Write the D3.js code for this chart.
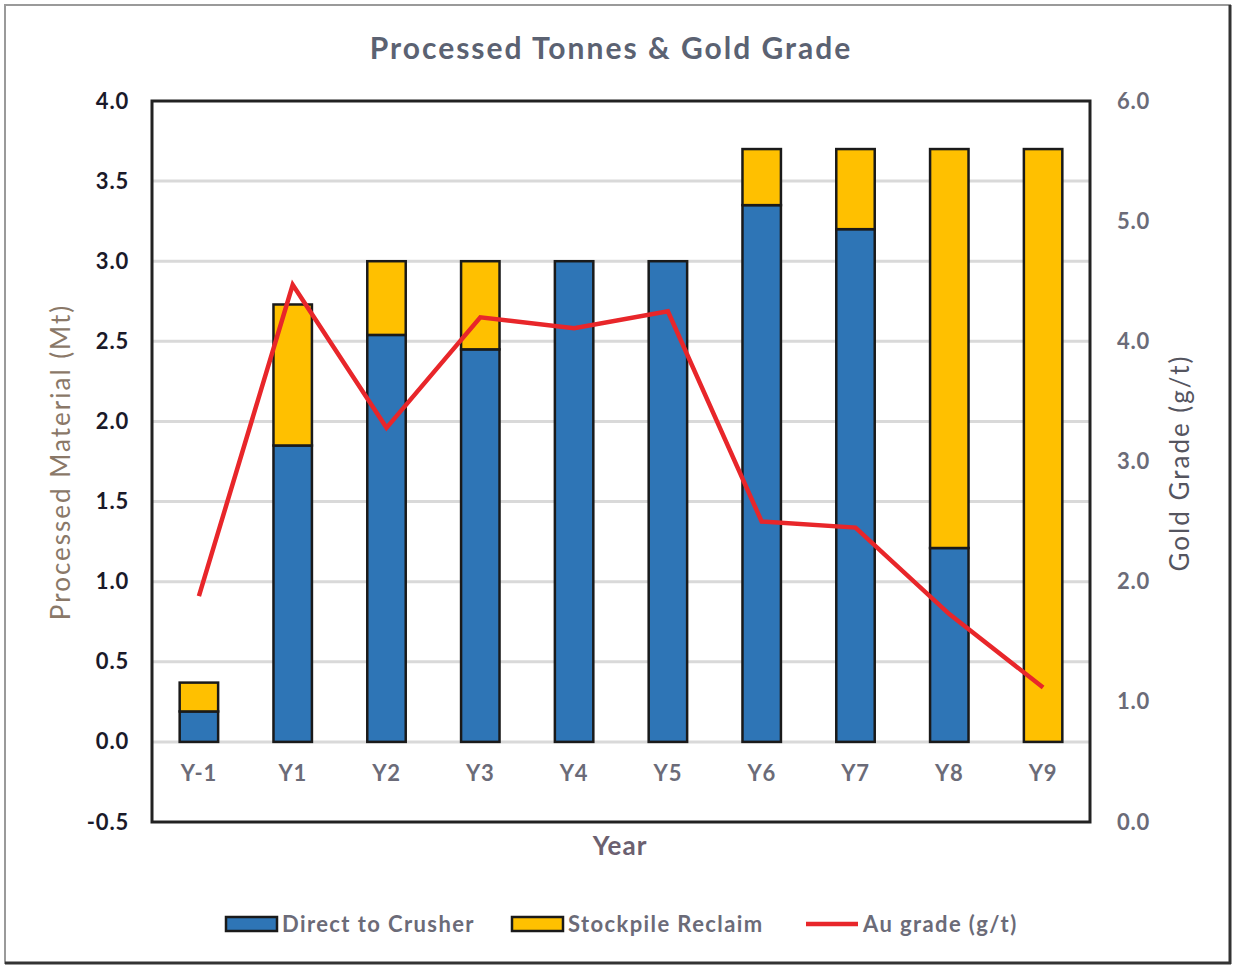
<!DOCTYPE html>
<html><head><meta charset="utf-8">
<script src="https://cdn.jsdelivr.net/npm/d3@7"></script>
<style>
html,body{margin:0;padding:0;background:#fff;}
svg{display:block;font-family:Lato,"Open Sans",sans-serif;}
</style></head>
<body>
<svg id="chart" width="1242" height="968"></svg>
<script>
const categories = ["Y-1","Y1","Y2","Y3","Y4","Y5","Y6","Y7","Y8","Y9"];
const directToCrusher = [0.19, 1.85, 2.54, 2.45, 3.0, 3.0, 3.35, 3.2, 1.21, 0.0];
const stockpileReclaim = [0.18, 0.88, 0.46, 0.55, 0.0, 0.0, 0.35, 0.5, 2.49, 3.7];
const auGrade = [1.88, 4.47, 3.28, 4.20, 4.11, 4.25, 2.50, 2.45, 1.73, 1.12];
const leftTicks = [-0.5,0,0.5,1,1.5,2,2.5,3,3.5,4];
const rightTicks = [0,1,2,3,4,5,6];
const seriesNames = ["Direct to Crusher","Stockpile Reclaim","Au grade (g/t)"];

const svg = d3.select("#chart");
const L = 152, R = 1090, T = 101, B = 822;
const blue = "#2e75b6", gold = "#ffc000", red = "#e8262a";
const fmt = d => d.toFixed(1);

// outer frame
svg.append("rect").attr("x",5).attr("y",5).attr("width",1225).attr("height",958)
  .attr("fill","#fff").attr("stroke","#9a9a9a").attr("stroke-width",2);
svg.append("line").attr("x1",5).attr("x2",1231).attr("y1",963).attr("y2",963).attr("stroke","#333").attr("stroke-width",3);
svg.append("line").attr("x1",1230).attr("x2",1230).attr("y1",5).attr("y2",964).attr("stroke","#333").attr("stroke-width",3);

const x = d3.scaleBand().domain(categories).range([L,R]).paddingInner(0.59).paddingOuter(0.295);
const yL = d3.scaleLinear().domain([-0.5,4]).range([B,T]);
const yR = d3.scaleLinear().domain([0,6]).range([B,T]);

// gridlines
svg.append("g").selectAll("line").data(leftTicks.filter(d=>d>-0.5 && d<4)).join("line")
  .attr("x1",L).attr("x2",R).attr("y1",d=>yL(d)).attr("y2",d=>yL(d))
  .attr("stroke","#d9d9d9").attr("stroke-width",3);

// bars
const stackData = categories.map((c,i)=>({cat:c, direct:directToCrusher[i], stock:stockpileReclaim[i]}));
const stack = d3.stack().keys(["direct","stock"])(stackData);
const colors = {direct:blue, stock:gold};
svg.append("g").selectAll("g").data(stack).join("g")
  .attr("fill",d=>colors[d.key])
  .selectAll("rect").data(d=>d.filter(p=>p[1]-p[0]>0)).join("rect")
  .attr("x",d=>x(d.data.cat)).attr("width",x.bandwidth())
  .attr("y",d=>yL(d[1])).attr("height",d=>yL(d[0])-yL(d[1]))
  .attr("stroke","#1a1a1a").attr("stroke-width",2.5);

// line
const line = d3.line().x((d,i)=>x(categories[i])+x.bandwidth()/2).y(d=>yR(d));
svg.append("path").datum(auGrade).attr("d",line).attr("fill","none")
  .attr("stroke",red).attr("stroke-width",4.5).attr("stroke-linejoin","miter");

// plot frame
svg.append("rect").attr("x",L).attr("y",T).attr("width",R-L).attr("height",B-T)
  .attr("fill","none").attr("stroke","#222").attr("stroke-width",3);

// left axis
const axL = svg.append("g").attr("transform",`translate(${L},0)`)
  .call(d3.axisLeft(yL).tickValues(leftTicks).tickFormat(fmt).tickSize(0).tickPadding(23));
axL.select(".domain").remove();
axL.selectAll("text").attr("font-size",22).attr("font-weight",700).attr("fill","#1a1a2a")
  .attr("letter-spacing",0.8).attr("font-family","Lato,sans-serif");

// right axis
const axR = svg.append("g").attr("transform",`translate(${R},0)`)
  .call(d3.axisRight(yR).tickValues(rightTicks).tickFormat(fmt).tickSize(0).tickPadding(27));
axR.select(".domain").remove();
axR.selectAll("text").attr("font-size",22).attr("font-weight",700).attr("fill","#6b6b78")
  .attr("letter-spacing",0.8).attr("font-family","Lato,sans-serif");

// x axis labels at zero line
const axX = svg.append("g").attr("transform",`translate(0,${yL(0)})`)
  .call(d3.axisBottom(x).tickSize(0).tickPadding(24));
axX.select(".domain").remove();
axX.selectAll("text").attr("font-size",22).attr("font-weight",700).attr("fill","#6b6b78")
  .attr("letter-spacing",0.8).attr("font-family","Lato,sans-serif");

// title
svg.append("text").attr("x",611).attr("y",59).attr("text-anchor","middle")
  .attr("font-size",30).attr("font-weight",700).attr("fill","#5b6272")
  .attr("letter-spacing",2).text("Processed Tonnes & Gold Grade");

// axis titles
svg.append("text").attr("transform","translate(70,462) rotate(-90)").attr("text-anchor","middle")
  .attr("font-size",26).attr("fill","#8a7868").attr("letter-spacing",2).text("Processed Material (Mt)");
svg.append("text").attr("transform","translate(1189,463) rotate(-90)").attr("text-anchor","middle")
  .attr("font-size",26).attr("fill","#55555f").attr("letter-spacing",2).text("Gold Grade (g/t)");
svg.append("text").attr("x",620).attr("y",855).attr("text-anchor","middle")
  .attr("font-size",26).attr("font-weight",700).attr("fill","#6b6070").attr("letter-spacing",1).text("Year");

// legend
const legend = [
  {name:seriesNames[0], type:"rect", color:blue, x:226, tx:282},
  {name:seriesNames[1], type:"rect", color:gold, x:512, tx:568},
  {name:seriesNames[2], type:"line", color:red, x:806, tx:863}
];
const lg = svg.append("g");
legend.forEach(d=>{
  if(d.type==="rect"){
    lg.append("rect").attr("x",d.x).attr("y",917).attr("width",51).attr("height",14)
      .attr("fill",d.color).attr("stroke","#1a1a1a").attr("stroke-width",2.5);
  } else {
    lg.append("line").attr("x1",d.x).attr("x2",d.x+52).attr("y1",924).attr("y2",924)
      .attr("stroke",d.color).attr("stroke-width",4.5);
  }
  lg.append("text").attr("x",d.tx).attr("y",932).attr("font-size",22).attr("font-weight",700)
    .attr("fill","#6b6b78").attr("letter-spacing",1.4).text(d.name);
});
</script>
</body></html>
